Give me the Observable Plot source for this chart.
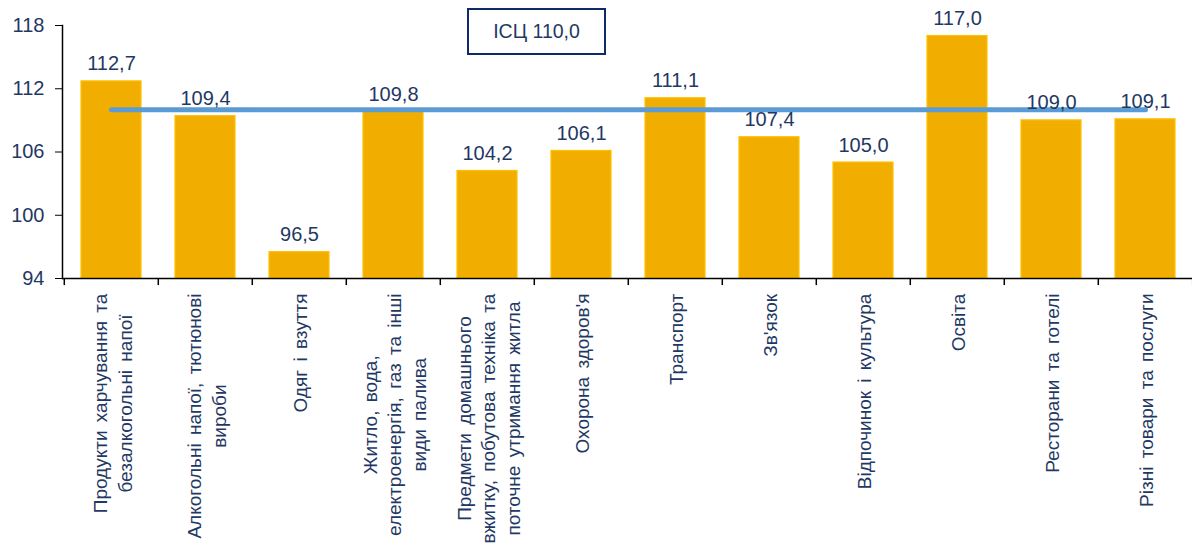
<!DOCTYPE html>
<html>
<head>
<meta charset="utf-8">
<script src="https://cdn.jsdelivr.net/npm/d3@7"></script>
<script src="https://cdn.jsdelivr.net/npm/@observablehq/plot@0.6"></script>
<style>
  body { margin: 0; background: #fff; font-family: "Liberation Sans", Arial, sans-serif; }
  #wrap { position: relative; width: 1192px; height: 560px; overflow: hidden; }
  #badge { position: absolute; left: 467px; top: 8px; width: 135px; height: 43px; border: 2.5px solid #0E2A6B;
           display: flex; align-items: center; justify-content: center; font-size: 19.5px; color: #1F3864; background: #fff; }
</style>
</head>
<body>
<div id="wrap"><div id="badge"></div></div>
<script>
const categories = [
  "Продукти харчування та\nбезалкогольні напої",
  "Алкогольні напої, тютюнові\nвироби",
  "Одяг і взуття",
  "Житло, вода,\nелектроенергія, газ та інші\nвиди палива",
  "Предмети домашнього\nвжитку, побутова техніка та\nпоточне утримання житла",
  "Охорона здоров'я",
  "Транспорт",
  "Зв'язок",
  "Відпочинок і культура",
  "Освіта",
  "Ресторани та готелі",
  "Різні товари та послуги"
];
const values = [112.7, 109.4, 96.5, 109.8, 104.2, 106.1, 111.1, 107.4, 105.0, 117.0, 109.0, 109.1];
const cpi = 110.0;
const cpiLabel = "ІСЦ";
const yTicks = [94, 100, 106, 112, 118];

const fmt = v => v.toFixed(1).replace(".", ",");
const data = categories.map((c, i) => ({c, v: values[i]}));
const cpiLine = categories.map(c => ({c, v: cpi}));

document.getElementById("badge").textContent = `${cpiLabel} ${fmt(cpi)}`;

const navy = "#1F3864";
const step = (1194 - 61) / categories.length;

const chart = Plot.plot({
  width: 1192,
  height: 560,
  marginLeft: 62,
  marginRight: 0,
  marginTop: 25,
  marginBottom: 282,
  style: {fontFamily: "Liberation Sans, Arial, sans-serif", fontSize: "20px", color: navy, overflow: "visible"},
  x: {domain: categories, range: [61, 1194], paddingInner: 0.365, paddingOuter: 0.1825, axis: null},
  y: {domain: [94, 118], ticks: yTicks, axis: null},
  marks: [
    Plot.barY(data, {x: "c", y1: 94, y2: "v", fill: "#F2AE00", stroke: "#FFC000", strokeWidth: 1.2}),
    Plot.lineY(cpiLine, {x: "c", y: "v", stroke: "#5B9BD5", strokeWidth: 5, strokeLinecap: "round"}),
    Plot.text(data, {x: "c", y: "v", text: d => fmt(d.v), lineAnchor: "bottom", dy: -11, fill: navy, fontSize: 20}),
    Plot.axisY({ticks: yTicks, label: null, tickSize: 7, tickPadding: 11, tickFormat: d => d, fontSize: 20, fill: navy, stroke: "#000"}),
    Plot.frame({anchor: "left", stroke: "#000", strokeWidth: 1.5}),
    Plot.ruleY([94], {stroke: "#000", strokeWidth: 1.5}),
    Plot.ruleX(categories, {x: d => d, y1: 94, y2: 93.33, dx: -step / 2, stroke: "#000", strokeWidth: 1.5}),
    Plot.ruleX(categories.slice(-1), {x: d => d, y1: 94, y2: 93.33, dx: step / 2, stroke: "#000", strokeWidth: 1.5}),
    Plot.text(categories, {x: d => d, text: d => d, frameAnchor: "bottom", rotate: -90, textAnchor: "middle",
      lineAnchor: "middle", lineHeight: 1.3, fontSize: 19, fill: navy, className: "xlabels"})
  ]
});

const wrap = document.getElementById("wrap");
wrap.insertBefore(chart, wrap.firstChild);

// place each rotated label block so that its top edge sits just below the axis, lines centred
const axisY = 278;
d3.select(chart).selectAll(".xlabels text").each(function() {
  this.style.wordSpacing = "3px";
  const bb = this.getBBox();
  const t = this.getAttribute("transform") || "";
  const m = t.match(/translate\(([-\d.]+),\s*([-\d.]+)\)/);
  const x = m ? +m[1] : 0;
  this.setAttribute("transform", `translate(${x},${axisY + 15 + bb.width / 2}) rotate(-90)`);
});
</script>
</body>
</html>
